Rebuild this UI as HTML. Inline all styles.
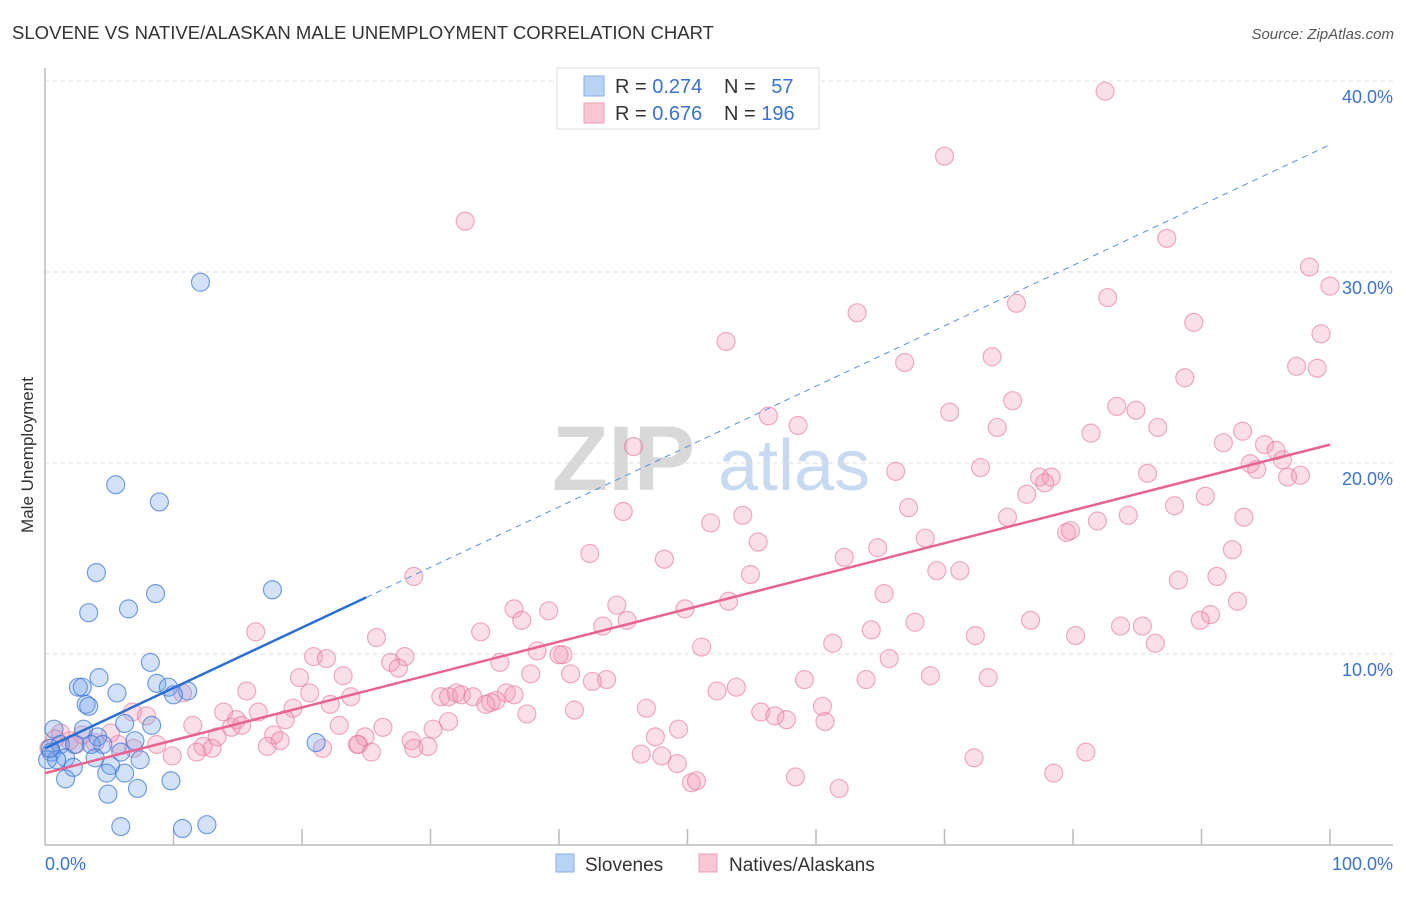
<!DOCTYPE html>
<html><head><meta charset="utf-8"><style>
body{margin:0;background:#fff;font-family:"Liberation Sans",sans-serif;}
svg text{font-family:"Liberation Sans",sans-serif;}
</style></head><body>
<svg id="chart" width="1406" height="892" viewBox="0 0 1406 892" xmlns="http://www.w3.org/2000/svg">
<text x="12" y="39" font-size="18" fill="#333" textLength="702" lengthAdjust="spacingAndGlyphs">SLOVENE VS NATIVE/ALASKAN MALE UNEMPLOYMENT CORRELATION CHART</text>
<text x="1394" y="39" font-size="15" fill="#555" font-style="italic" text-anchor="end">Source: ZipAtlas.com</text>
<text x="552" y="490" font-size="92" fill="#d8d8d8" font-family="Liberation Serif, serif" font-weight="bold">ZIP</text>
<text x="718" y="490" font-size="72" fill="#c8daf2">atlas</text>
<g id="grid"></g>
<g id="axes"></g>
<g id="pink"></g>
<g id="blue"></g>
<g id="lines"></g>
<text transform="translate(33,455) rotate(-90)" font-size="17" fill="#333" text-anchor="middle">Male Unemployment</text>
<g>
<rect x="557" y="68" width="262" height="61" fill="#fff" stroke="#ddd"/>
<rect x="584" y="76" width="20" height="20" fill="#b9d3f5" stroke="#8ab0e6"/>
<rect x="584" y="103" width="20" height="20" fill="#f8c6d4" stroke="#eaa0b8"/>
<text x="615" y="93" font-size="20" fill="#333">R = <tspan fill="#3a72d0">0.274</tspan></text>
<text x="724" y="93" font-size="20" fill="#333">N = <tspan fill="#3a72d0" dx="10">57</tspan></text>
<text x="615" y="120" font-size="20" fill="#333">R = <tspan fill="#3a72d0">0.676</tspan></text>
<text x="724" y="120" font-size="20" fill="#333">N = <tspan fill="#3a72d0">196</tspan></text>
</g>
<g>
<rect x="556" y="854" width="18" height="18" fill="#b9d3f5" stroke="#8ab0e6"/>
<text x="585" y="871" font-size="19" fill="#333">Slovenes</text>
<rect x="699" y="854" width="18" height="18" fill="#f8c6d4" stroke="#eaa0b8"/>
<text x="729" y="871" font-size="19" fill="#333">Natives/Alaskans</text>
</g>
</svg>
<script>
const blueX=[12.1,5.5,8.9,4.0,17.7,8.6,3.4,6.5,8.2,4.2,2.6,2.9,5.6,8.7,9.6,11.1,10.0,3.2,3.4,21.1,6.2,8.3,0.7,3.0,4.1,7.0,1.2,2.3,3.6,4.5,0.5,1.6,0.9,3.9,5.9,7.4,2.2,5.1,6.2,1.6,4.8,9.8,7.2,4.9,5.9,10.7,12.6,0.2,0.4];
const blueY=[30.3,19.7,18.8,15.1,14.2,14.0,13.0,13.2,10.4,9.6,9.1,9.1,8.8,9.3,9.1,8.9,8.7,8.2,8.1,6.2,7.2,7.1,6.9,6.9,6.5,6.3,6.1,6.1,6.1,6.1,5.7,5.4,5.3,5.4,5.7,5.3,4.9,5.0,4.6,4.3,4.6,4.2,3.8,3.5,1.8,1.7,1.9,5.3,5.9];
const pinkX=[82.5,70,32.7,87.3,98.4,100,82.7,75.6,63.2,89.4,99.3,53,73.7,66.9,97.4,99,88.7,75.3,83.4,70.4,84.9,56.3,58.6,74.1,86.6,81.4,93.2,45.8,91.7,94.9,95.8,96.3,72.8,93.8,94.3,77.4,78.3,66.2,85.8,96.7,97.7,77.8,76.4,90.3,67.2,87.9,45,54.3,51.8,84.3,93.3,74.9,81.9,79.5,79.8,55.5,68.5,64.8,42.4,48.2,62.2,92.4,54.9,69.4,71.2,28.7,88.2,91.2,65.3,92.8,44.5,53.2,36.5,39.2,49.8,90.7,89.9,45.3,43.4,67.7,76.7,83.7,85.4,37.1,33.9,64.3,16.4,25.8,72.4,80.2,51.1,61.3,86.4,38.3,40.3,40,20.9,21.9,28,35.4,26.9,27.5,65.7,40.9,23.2,37.8,19.8,42.6,43.7,59.1,63.9,68.9,73.4,15.7,20.6,32,10.7,23.8,30.8,31.4,32.4,33.3,35.9,36.5,53.8,52.3,22.2,34.7,35.1,34.3,37.5,41.2,46.8,60.5,13.9,16.6,19.3,55.7,56.8,57.7,11.5,14.9,18.7,31.4,60.7,6.8,7.9,14.5,15.3,22.9,26.3,30.2,49.3,13.4,17.8,18.3,24.4,24.9,28.5,29.8,47.5,12.3,17.3,21.6,24.3,13.0,11.8,8.7,6.9,5.7,3.9,1.9,1.2,2.9,5.1,25.4,46.4,48,81,72.3,9.9,28.7,49.2,78.5,58.4,50.3,50.7,61.8,0.3,0.8,2.4];
const pinkY=[40.3,36.9,33.5,32.6,31.1,30.1,29.5,29.2,28.7,28.2,27.6,27.2,26.4,26.1,25.9,25.8,25.3,24.1,23.8,23.5,23.6,23.3,22.8,22.7,22.7,22.4,22.5,21.7,21.9,21.8,21.5,21.0,20.6,20.8,20.5,20.1,20.1,20.4,20.3,20.1,20.2,19.8,19.2,19.1,18.5,18.6,18.3,18.1,17.7,18.1,18.0,18.0,17.8,17.2,17.3,16.7,16.9,16.4,16.1,15.8,15.9,16.3,15.0,15.2,15.2,14.9,14.7,14.9,14.0,13.6,13.4,13.6,13.2,13.1,13.2,12.9,12.6,12.6,12.3,12.5,12.6,12.3,12.3,12.6,12.0,12.1,12.0,11.7,11.8,11.8,11.2,11.4,11.4,11.0,10.8,10.8,10.7,10.6,10.7,10.4,10.4,10.1,10.6,9.8,9.7,9.8,9.6,9.4,9.5,9.5,9.5,9.7,9.6,8.9,8.8,8.8,8.8,8.6,8.6,8.6,8.7,8.6,8.8,8.7,9.1,8.9,8.2,8.3,8.4,8.2,7.7,7.9,8.0,8.1,7.8,7.8,8.0,7.8,7.6,7.4,7.1,7.4,7.4,7.3,7.3,7.8,7.6,7.0,7.1,7.1,7.0,6.9,6.9,6.5,6.6,6.3,6.1,6.5,6.3,6.0,6.5,6.0,6.0,5.9,6.1,5.9,5.7,6.1,5.9,6.1,6.2,6.3,6.7,6.6,6.7,5.7,5.6,5.5,5.7,5.4,5.5,5.9,5.1,4.6,4.4,4.1,4.2,3.8,5.9,6.4,6.1];
const yTicks=[10,20,30,40];
const yTickLabels=["10.0%","20.0%","30.0%","40.0%"];
const blueTrend=[5.9,37.5];
const pinkTrend=[4.6,21.8];
const blueSolidEnd=25;

const NS="http://www.w3.org/2000/svg";
const X=v=>45+v*12.85;
const Y=v=>861-v*19.1;
function mk(tag,attrs,parent){const e=document.createElementNS(NS,tag);for(const k in attrs)e.setAttribute(k,attrs[k]);document.getElementById(parent).appendChild(e);return e;}

yTicks.forEach((t,i)=>{
  const g=mk('line',{x1:45,x2:1393,y1:Y(t)-16,y2:Y(t)-16,stroke:'#ddd','stroke-dasharray':'4,4'},'grid');
  
  
  const l=mk('text',{x:1393,y:Y(t)+6,'font-size':18,fill:'#3a72d0','text-anchor':'end'},'grid');
  l.textContent=yTickLabels[i];
  
  
});
let a=mk('line',{x1:45,x2:45,y1:68,y2:845,stroke:'#bbb','stroke-width':1.5},'axes');


a=mk('line',{x1:45,x2:1393,y1:845,y2:845,stroke:'#bbb','stroke-width':1.5},'axes');


for(let t=10;t<=100;t+=10){
  const tk=mk('line',{x1:X(t),x2:X(t),y1:829,y2:845,stroke:'#bbb','stroke-width':1.5},'axes');
  
  
}
let xl=mk('text',{x:45,y:870,'font-size':18,fill:'#3a72d0'},'axes');xl.textContent='0.0%';


xl=mk('text',{x:1393,y:870,'font-size':18,fill:'#3a72d0','text-anchor':'end'},'axes');xl.textContent='100.0%';



pinkX.forEach((v,i)=>{
  const c=mk('circle',{cx:X(v),cy:Y(pinkY[i]),r:9,fill:'rgba(242,150,178,0.3)',stroke:'rgba(226,120,155,0.6)','stroke-width':1.2},'pink');
  
  
});
blueX.forEach((v,i)=>{
  const c=mk('circle',{cx:X(v),cy:Y(blueY[i]),r:9,fill:'rgba(110,160,235,0.3)',stroke:'rgba(60,120,215,0.7)','stroke-width':1.2},'blue');
  
  
});
const bAt=v=>blueTrend[0]+(blueTrend[1]-blueTrend[0])*v/100;
let ln=mk('line',{x1:X(blueSolidEnd),y1:Y(bAt(blueSolidEnd)),x2:X(100),y2:Y(bAt(100)),stroke:'#5a8fdc','stroke-width':1,'stroke-dasharray':'6,5'},'lines');


ln=mk('line',{x1:X(0),y1:Y(bAt(0)),x2:X(blueSolidEnd),y2:Y(bAt(blueSolidEnd)),stroke:'#2a6fd6','stroke-width':2.5},'lines');


ln=mk('line',{x1:X(0),y1:Y(pinkTrend[0]),x2:X(100),y2:Y(pinkTrend[1]),stroke:'#e8638f','stroke-width':2.5},'lines');


</script>
</body></html>
